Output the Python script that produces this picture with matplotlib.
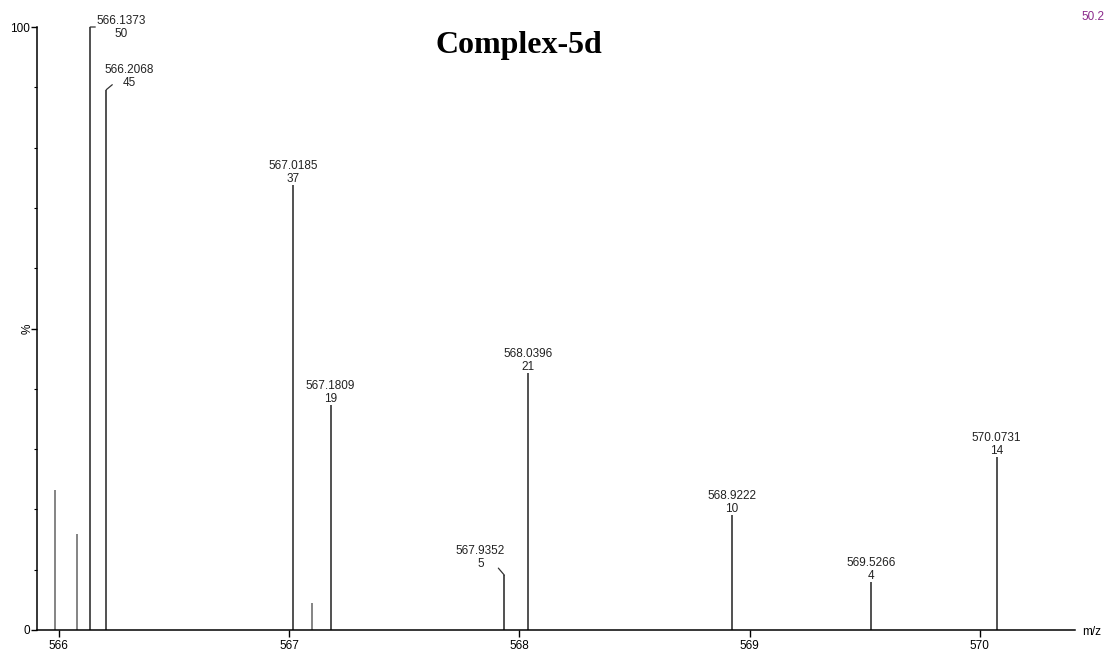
import matplotlib
matplotlib.use("Agg")
import matplotlib.pyplot as plt
from matplotlib.ticker import MultipleLocator

# peak list (m/z, relative %)
mz = [565.983, 566.078, 566.1373, 566.2068, 567.0185, 567.100, 567.1809,
      567.9352, 568.0396, 568.9222, 569.5266, 570.0731]
rel = [23.2, 15.9, 100.0, 89.6, 73.8, 4.5, 37.3, 9.1, 42.6, 19.1, 8.0, 28.7]
counts = [None, None, 50, 45, 37, None, 19, 5, 21, 10, 4, 14]

title = "Complex-5d"
max_intensity = "50.2"
xticks = [566, 567, 568, 569, 570]

# label offsets in pixels (text dx, text dy, leader end dx, dy)
label_pos = {
    566.1373: (31, -13, 5, 0),
    566.2068: (23, 1, 6, 5),
    567.9352: (-24, 5, -6, 7),
}

plt.rcParams["font.family"] = ["Liberation Sans", "DejaVu Sans"]

fig = plt.figure(figsize=(11.09, 6.52), dpi=100)
ax = fig.add_axes([37 / 1109, 22 / 652, (1075 - 37) / 1109, 603 / 652])

for x, y, c in zip(mz, rel, counts):
    col = "#333333" if c is not None else "#707070"
    ax.vlines(x, 0, y, color=col, lw=1.2)
    if c is None:
        continue
    dx, dy, lx, ly = label_pos.get(x, (0, 0, 0, 0))
    if lx or ly:
        ax.annotate("", xy=(x, y), xytext=(lx, ly), textcoords="offset pixels",
                    arrowprops=dict(arrowstyle="-", lw=0.9, color="#333333",
                                    shrinkA=0, shrinkB=0))
    ax.annotate(f"{x:.4f}\n{c}", xy=(x, y), xytext=(dx, dy),
                textcoords="offset pixels", ha="center", va="bottom",
                fontsize=8.5, linespacing=1.1, color="#222222")

ax.set_xlim(565.906, 570.413)
ax.set_ylim(0, 100)
ax.spines["top"].set_visible(False)
ax.spines["right"].set_visible(False)
ax.spines["left"].set_linewidth(1.1)
ax.spines["bottom"].set_linewidth(1.1)

ax.set_xticks(xticks)
ax.set_xticklabels([str(t) for t in xticks])
ax.tick_params(axis="x", direction="out", length=5, width=1, labelsize=8.5, pad=2)
ax.set_yticks([0, 50, 100])
ax.set_yticklabels(["0", "", "100"])
ax.yaxis.set_minor_locator(MultipleLocator(10))
ax.tick_params(axis="y", which="major", direction="out", length=4, width=1,
               labelsize=8.5, pad=1)
ax.tick_params(axis="y", which="minor", direction="out", length=2, width=0.8)
ax.annotate("%", xy=(0, 50), xycoords=ax.get_yaxis_transform(),
            xytext=(-9, 0), textcoords="offset pixels",
            rotation=90, ha="center", va="center", fontsize=8.5)

fig.text(519 / 1109, 1 - 45 / 652, title, ha="center", va="center",
         fontsize=23, fontweight="bold", family="Liberation Serif")
fig.text(1093 / 1109, 1 - 17 / 652, max_intensity, ha="center", va="center",
         fontsize=8.5, color="#8b2a8b")
fig.text(1092 / 1109, 1 - 632 / 652, "m/z", ha="center", va="center", fontsize=8.5)

fig.savefig("out.png", dpi=100)
